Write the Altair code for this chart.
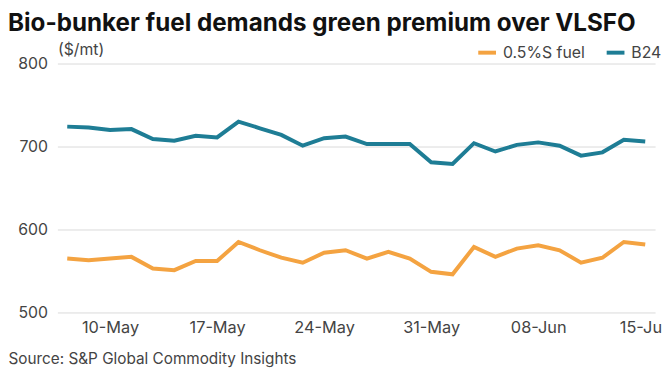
import altair as alt
import pandas as pd

dates = ["08-May", "09-May", "10-May", "11-May", "12-May", "15-May", "16-May",
         "17-May", "18-May", "19-May", "22-May", "23-May", "24-May", "25-May",
         "26-May", "29-May", "30-May", "31-May", "01-Jun", "05-Jun", "06-Jun",
         "07-Jun", "08-Jun", "09-Jun", "12-Jun", "13-Jun", "14-Jun", "15-Jun"]
fuel_05 = [565, 563, 565, 567, 553, 551, 562, 562, 585, 575, 566, 560, 572, 575,
           565, 573, 565, 549, 546, 579, 567, 577, 581, 575, 560, 566, 585, 582]
b24 = [724, 723, 720, 721, 709, 707, 713, 711, 730, 722, 714, 701, 710, 712,
       703, 703, 703, 681, 679, 704, 694, 702, 705, 701, 689, 693, 708, 706]
series_names = ["0.5%S fuel", "B24"]
tick_dates = ["10-May", "17-May", "24-May", "31-May", "08-Jun", "15-Jun"]
y_ticks = [500, 600, 700, 800]

rows = []
for i, d in enumerate(dates):
    rows.append({"date": d, "series": series_names[0], "value": fuel_05[i]})
    rows.append({"date": d, "series": series_names[1], "value": b24[i]})
df = pd.DataFrame(rows)

FONT = "Inter"
TXT = "#444444"

chart = alt.Chart(df).mark_line(strokeWidth=4).encode(
    x=alt.X("date:O", sort=dates,
            scale=alt.Scale(type="point", padding=0.46),
            axis=alt.Axis(values=tick_dates, labelAngle=0, ticks=False, domain=False,
                          grid=False, labelFontSize=16.5, labelColor=TXT, labelFont=FONT,
                          labelPadding=7,
                          title="Source: S&P Global Commodity Insights",
                          titleX=-50, titleY=52, titleAlign="left",
                          titleBaseline="alphabetic", titleFontSize=15.5,
                          titleFontWeight="normal", titleColor=TXT, titleFont=FONT)),
    y=alt.Y("value:Q", scale=alt.Scale(domain=[500, 800], nice=False, zero=False),
            axis=alt.Axis(values=y_ticks, ticks=False, domain=False, grid=True,
                          gridColor="#d9d9d9", labelFontSize=16, labelColor=TXT,
                          labelFont=FONT, labelPadding=10,
                          title="($/mt)", titleAngle=0, titleAlign="left",
                          titleBaseline="alphabetic", titleX=0, titleY=-9,
                          titleFontSize=16, titleFontWeight="normal",
                          titleColor=TXT, titleFont=FONT)),
    color=alt.Color("series:N",
                    scale=alt.Scale(domain=series_names, range=["#F4A341", "#1E7D95"]),
                    legend=alt.Legend(orient="none", legendX=424, legendY=-22,
                                      direction="horizontal", title=None,
                                      symbolType="stroke", symbolStrokeWidth=4,
                                      symbolSize=324, labelFontSize=16,
                                      labelColor=TXT, labelFont=FONT, labelOffset=5,
                                      columnPadding=14)),
).properties(
    width=605, height=252,
    autosize=alt.AutoSizeParams(type="none"),
    padding={"left": 50, "top": 54, "right": 7, "bottom": 56},
    title=alt.TitleParams("Bio-bunker fuel demands green premium over VLSFO",
                          anchor="start", frame="group", dx=-50, dy=-1, fontSize=24.5,
                          fontWeight="bold", font=FONT, color="#111111"),
).configure_view(stroke=None)

chart.save("out.html", embed_options={"renderer": "svg", "actions": False})
